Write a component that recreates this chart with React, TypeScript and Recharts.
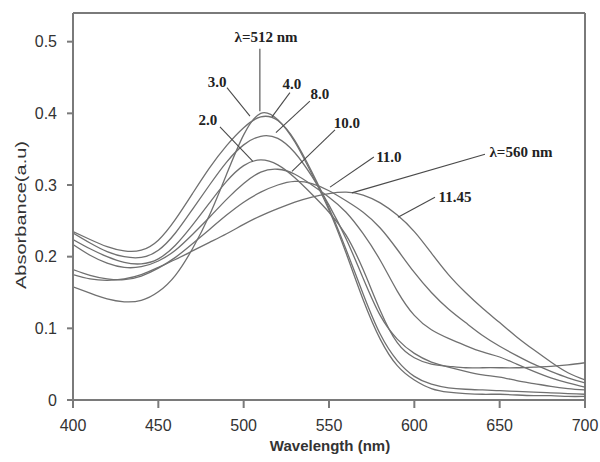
import React from 'react';
import { LineChart, Line, XAxis, YAxis, ReferenceLine, ReferenceDot } from 'recharts';

const WAVELENGTHS = [400,410,420,430,440,450,460,470,480,490,500,510,520,530,540,550,560,570,580,590,600,610,620,630,640,650,660,670,680,690,700];

const PH_2_0 = [.224,.211,.200,.192,.190,.197,.216,.244,.275,.305,.327,.335,.328,.310,.287,.262,.230,.182,.125,.080,.059,.050,.047,.045,.045,.045,.045,.046,.047,.049,.052];
const PH_3_0 = [.158,.149,.141,.137,.139,.151,.174,.211,.258,.315,.370,.400,.391,.360,.315,.265,.205,.140,.085,.048,.028,.016,.011,.009,.008,.008,.007,.006,.006,.005,.005];
const PH_4_0 = [.235,.224,.214,.208,.209,.223,.252,.288,.324,.355,.380,.395,.390,.362,.318,.268,.210,.148,.092,.055,.033,.022,.017,.015,.014,.013,.012,.011,.010,.009,.008];
const PH_8_0 = [.233,.219,.207,.200,.199,.209,.233,.266,.300,.332,.356,.368,.365,.345,.312,.272,.225,.170,.118,.085,.065,.053,.046,.040,.035,.032,.027,.023,.019,.016,.014];
const PH_10_0 = [.217,.202,.191,.185,.186,.194,.209,.231,.255,.280,.302,.318,.322,.315,.300,.283,.262,.232,.195,.152,.118,.098,.086,.076,.067,.060,.050,.040,.031,.024,.018];
const PH_11_0 = [.182,.174,.169,.168,.173,.184,.199,.218,.238,.258,.276,.290,.300,.305,.302,.292,.278,.262,.240,.210,.178,.150,.127,.108,.090,.075,.062,.050,.040,.031,.024];
const PH_11_45 = [.175,.169,.167,.169,.175,.185,.196,.208,.220,.232,.245,.257,.267,.276,.283,.288,.290,.286,.275,.258,.235,.205,.175,.150,.128,.108,.088,.070,.053,.038,.028];

const SERIES_KEYS = ['pH2.0','pH3.0','pH4.0','pH8.0','pH10.0','pH11.0','pH11.45'];
const SERIES_VALUES = [PH_2_0, PH_3_0, PH_4_0, PH_8_0, PH_10_0, PH_11_0, PH_11_45];

const X_TICKS = [400,450,500,550,600,650,700];
const Y_TICKS = [0,0.1,0.2,0.3,0.4,0.5];

// annotations: label text, text position, leader start, leader end (data units)
const ANNOT_TEXT = ['λ=512 nm','3.0','4.0','8.0','2.0','10.0','11.0','λ=560 nm','11.45'];
const ANNOT_TX = [513.1,484.4,528.3,544.7,479.1,560.5,585.1,662.5,623.8];
const ANNOT_TY = [0.507,0.444,0.441,0.427,0.391,0.387,0.340,0.346,0.284];
const ANNOT_X1 = [509.5,490.2,527.1,538.8,486.1,553.5,576.3,641.4,612.1];
const ANNOT_Y1 = [0.490,0.436,0.429,0.417,0.381,0.377,0.339,0.343,0.283];
const ANNOT_X2 = [509.5,503.7,516.6,518.9,505.4,528.3,550.6,563.4,590.4];
const ANNOT_Y2 = [0.403,0.396,0.395,0.373,0.333,0.319,0.297,0.289,0.255];

const data = WAVELENGTHS.map((w, i) => {
  const row: Record<string, number> = { w };
  SERIES_KEYS.forEach((k, j) => { row[k] = SERIES_VALUES[j][i]; });
  return row;
});

const LINE_COLOR = '#707070';
const AXIS_COLOR = '#7a7a7a';

export default function App() {
  return (
    <div style={{ position: 'absolute', left: 0, top: 0, width: 600, height: 462, background: '#fff' }}>
      <LineChart width={600} height={462} data={data} margin={{ top: 13, right: 15, left: 13, bottom: 22 }}>
        <XAxis
          dataKey="w"
          type="number"
          domain={[400, 700]}
          ticks={X_TICKS}
          allowDataOverflow
          height={40}
          tickSize={8}
          tickMargin={12}
          stroke={AXIS_COLOR}
          strokeWidth={2}
          tick={{ fill: '#333', fontSize: 16, fontFamily: 'Liberation Sans, Arial, sans-serif' }}
          label={{
            content: () => (
              <text x={330} y={451} textAnchor="middle" fill="#333" fontSize={15} fontWeight="bold" fontFamily="Liberation Sans, Arial, sans-serif">
                Wavelength (nm)
              </text>
            ),
          }}
        />
        <YAxis
          type="number"
          domain={[0, 0.54]}
          ticks={Y_TICKS}
          allowDataOverflow
          width={60}
          tickSize={6}
          tickMargin={10}
          stroke={AXIS_COLOR}
          strokeWidth={2}
          tickFormatter={(v: number) => (v === 0 ? '0' : v.toFixed(1))}
          tick={{ fill: '#333', fontSize: 16, fontFamily: 'Liberation Sans, Arial, sans-serif' }}
          label={{
            content: () => (
              <text
                x={20}
                y={215}
                textAnchor="middle"
                dominantBaseline="central"
                transform="rotate(-90, 20, 215)"
                fill="#333"
                fontSize={15}
                fontFamily="Liberation Sans, Arial, sans-serif"
                textLength={148}
                lengthAdjust="spacingAndGlyphs"
              >
                Absorbance(a.u)
              </text>
            ),
          }}
        />
        <ReferenceLine y={0.54} stroke={AXIS_COLOR} strokeWidth={2} ifOverflow="visible" />
        <ReferenceLine x={700} stroke={AXIS_COLOR} strokeWidth={2} ifOverflow="visible" />
        {SERIES_KEYS.map((k) => (
          <Line
            key={k}
            dataKey={k}
            type="natural"
            stroke={LINE_COLOR}
            strokeWidth={1.3}
            dot={false}
            activeDot={false}
            isAnimationActive={false}
          />
        ))}
        {ANNOT_TEXT.map((t, i) => (
          <ReferenceLine
            key={'l' + i}
            segment={[{ x: ANNOT_X1[i], y: ANNOT_Y1[i] }, { x: ANNOT_X2[i], y: ANNOT_Y2[i] }]}
            stroke="#4a4a4a"
            strokeWidth={1.1}
            ifOverflow="visible"
          />
        ))}
        {ANNOT_TEXT.map((t, i) => (
          <ReferenceDot
            key={'t' + i}
            x={ANNOT_TX[i]}
            y={ANNOT_TY[i]}
            r={0.01}
            fill="none"
            stroke="none"
            ifOverflow="visible"
            label={{
              value: t,
              position: 'center',
              fill: '#222',
              fontSize: 15,
              fontWeight: 'bold',
              fontFamily: 'Liberation Serif, Times New Roman, serif',
            }}
          />
        ))}
      </LineChart>
    </div>
  );
}
